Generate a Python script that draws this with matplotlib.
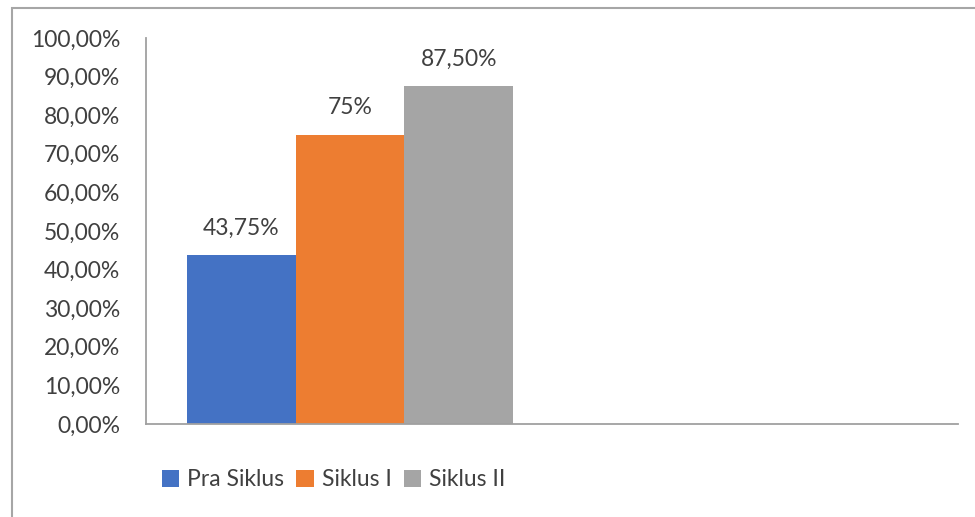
import matplotlib
matplotlib.use("Agg")
import matplotlib.pyplot as plt
from matplotlib.patches import Rectangle

series = ["Pra Siklus", "Siklus I", "Siklus II"]
values = [43.75, 75.0, 87.5]
value_labels = ["43,75%", "75%", "87,50%"]
colors = ["#4472C4", "#ED7D31", "#A5A5A5"]
yticks = [0, 10, 20, 30, 40, 50, 60, 70, 80, 90, 100]
ytick_labels = ["0,00%", "10,00%", "20,00%", "30,00%", "40,00%", "50,00%",
                "60,00%", "70,00%", "80,00%", "90,00%", "100,00%"]

plt.rcParams["font.family"] = ["Lato", "DejaVu Sans"]
text_color = "#404040"
fs = 16.5

fig = plt.figure(figsize=(9.75, 5.17), dpi=100)
ax = fig.add_axes([146 / 975, 1 - 424 / 517, (958 - 146) / 975, (424 - 38) / 517])

# frame around the chart area
fig.patches.append(Rectangle((12 / 975, -0.05), 1.1, 1 - 7.5 / 517 + 0.05,
                             transform=fig.transFigure, fill=False,
                             edgecolor="#a6a6a6", linewidth=1.5))

positions = list(range(len(series)))
bars = []
for x, v, c, name in zip(positions, values, colors, series):
    b = ax.bar(x, v, width=1.0, color=c, label=name, zorder=2)
    bars.append(b)

for x, v, lab in zip(positions, values, value_labels):
    ax.annotate(lab, (x, v), xytext=(0, 12), textcoords="offset points",
                ha="center", va="bottom", fontsize=fs, color=text_color)

ax.set_xlim(-0.88, 6.6)
ax.set_ylim(0, 100)
ax.set_yticks(yticks)
ax.set_yticklabels(ytick_labels, fontsize=fs, color=text_color)
ax.set_xticks([])
ax.tick_params(axis="y", length=0, pad=18.5)

for s in ["top", "right"]:
    ax.spines[s].set_visible(False)
ax.spines["left"].set_color("#a0a0a0")
ax.spines["bottom"].set_color("#a0a0a0")
ax.spines["left"].set_linewidth(1.3)
ax.spines["bottom"].set_linewidth(1.3)

leg = fig.legend(handles=[b[0] for b in bars], labels=series, loc="center left",
                 bbox_to_anchor=(141 / 975, 1 - 480 / 517), ncol=3, frameon=False,
                 fontsize=fs, handlelength=0.75, handleheight=0.75,
                 handletextpad=0.35, columnspacing=0.55)
for t in leg.get_texts():
    t.set_color(text_color)

fig.savefig("out.png", dpi=100, facecolor="white")
